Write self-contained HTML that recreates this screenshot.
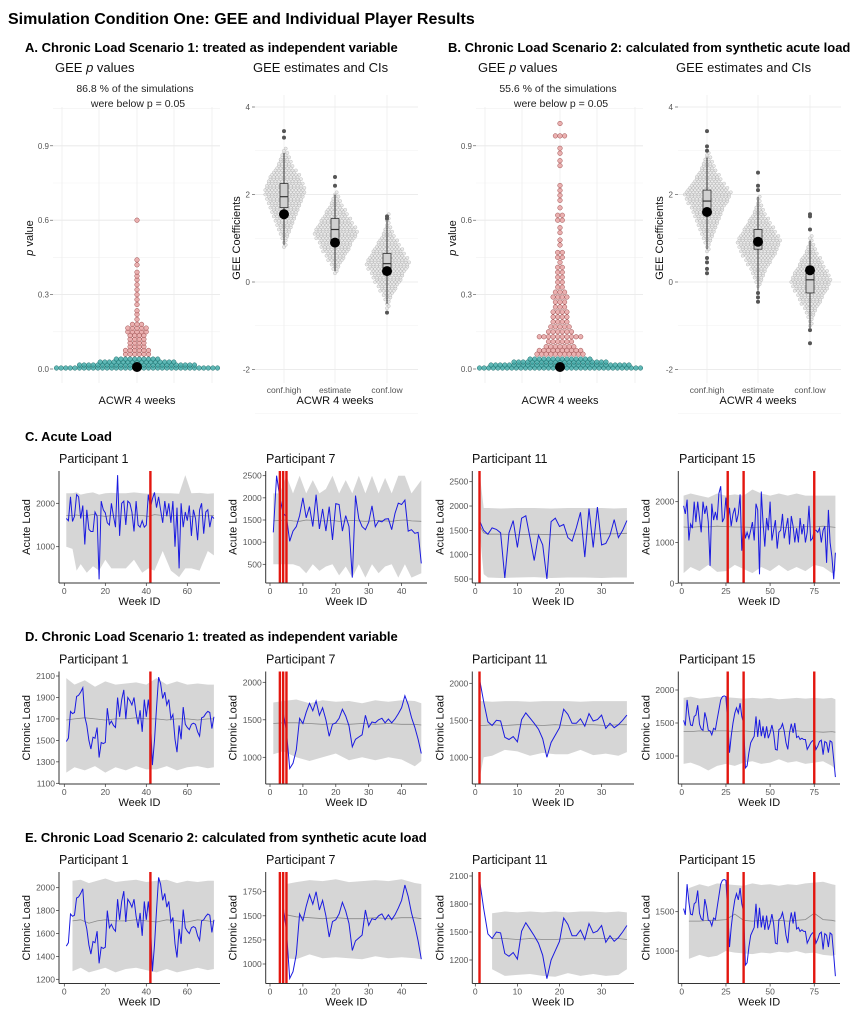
<!DOCTYPE html>
<html><head><meta charset="utf-8">
<style>
html,body{margin:0;padding:0;background:#fff;}
svg{display:block;font-family:"Liberation Sans",Arial,sans-serif;}
</style></head>
<body>
<svg id="fig" width="862" height="1026" viewBox="0 0 862 1026">
<rect x="0" y="0" width="862" height="1026" fill="#ffffff"/>
<text x="8" y="24" font-size="16" font-weight="bold" fill="#000">Simulation Condition One: GEE and Individual Player Results</text>
<text x="25" y="52" font-size="13" font-weight="bold">A. Chronic Load Scenario 1: treated as independent variable</text>
<text x="448" y="52" font-size="13" font-weight="bold">B. Chronic Load Scenario 2: calculated from synthetic acute load</text>
<text x="25" y="441" font-size="13" font-weight="bold">C. Acute Load</text>
<text x="25" y="641" font-size="13" font-weight="bold">D. Chronic Load Scenario 1: treated as independent variable</text>
<text x="25" y="842" font-size="13" font-weight="bold">E. Chronic Load Scenario 2: calculated from synthetic acute load</text>
<g id="layer"></g>
</svg>
<script>
// ---------- Beeswarm p-value data ----------
const tealBins = [0.004, 0.016, 0.028, 0.040];
const tealCountsA = [36, 26, 17, 10];
const tealCountsB = [36, 31, 21, 14];
const redBinsA = [0.06,0.075,0.09,0.105,0.12,0.135,0.15,0.165,0.18,0.2,0.22,0.235,0.26,0.28,0.3,0.32,0.34,0.36,0.375,0.39,0.42,0.44,0.6];
const redCountsA = [6,6,4,4,4,4,5,5,3,1,1,1,1,1,1,1,1,1,1,1,1,1,1];
const redBinsB = [0.06,0.075,0.09,0.11,0.13,0.15,0.17,0.19,0.21,0.23,0.25,0.27,0.29,0.31,0.33,0.35,0.37,0.39,0.41,0.43,0.45,0.47,0.5,0.52,0.55,0.57,0.6,0.62,0.65,0.68,0.7,0.72,0.74,0.82,0.84,0.87,0.89,0.94,0.99];
const redCountsB = [11,10,7,6,10,6,5,4,4,4,3,3,4,3,2,2,2,2,2,1,2,2,1,1,1,1,2,2,1,1,1,1,1,1,1,1,1,3,1];
const pMedianA = 0.008, pMedianB = 0.008;
const pTicks = [0.0, 0.3, 0.6, 0.9];
const pTickLabels = ["0.0","0.3","0.6","0.9"];

// ---------- GEE estimates data ----------
const geeCats = ["conf.high","estimate","conf.low"];
const geeStartA = [0.8, 0.2, -0.6];
const geeCountsA_high = [1,1,2,3,4,5,6,7,8,9,10,11,12,12,11,10,9,7,5,4,3,2,1];
const geeCountsA_est = [1,2,3,5,6,8,9,10,12,13,12,10,9,7,6,4,3,2,1];
const geeCountsA_low = [1,1,2,3,5,6,8,9,10,12,13,12,10,9,7,6,4,3,2,1,1,1];
const geeStartB = [0.7, -0.1, -1.0];
const geeCountsB_high = [1,1,2,3,4,5,6,7,8,9,10,12,13,14,12,10,8,7,5,4,3,2,1];
const geeCountsB_est = [1,2,3,4,5,7,8,10,11,12,13,12,10,9,7,6,4,3,2,1,1];
const geeCountsB_low = [1,1,2,3,4,6,7,8,10,11,12,11,10,8,7,6,4,3,2,1,1];
const boxA_high = [0.85,1.7,1.95,2.25,2.95], boxA_est = [0.25,0.95,1.2,1.45,2.0], boxA_low = [-0.5,0.2,0.42,0.65,1.4];
const boxB_high = [0.75,1.6,1.85,2.1,2.85], boxB_est = [-0.2,0.75,0.95,1.2,1.95], boxB_low = [-1.05,-0.25,0.05,0.3,0.95];
const outA_high = [3.3,3.45], outA_est = [2.2,2.4], outA_low = [1.45,1.5,-0.7];
const outB_high = [0.2,0.3,0.45,0.55,3.0,3.1,3.45], outB_est = [2.1,2.2,2.5,-0.25,-0.35,-0.45], outB_low = [1.2,1.5,1.55,-1.1,-1.4];
const pointA = [1.55, 0.9, 0.25], pointB = [1.6, 0.92, 0.27];
const geeTicks = [-2, 0, 2, 4];

// ---------- Time series data ----------
const acuteP1 = [1650,1600,2150,1580,1700,2200,2150,1650,1950,1050,1850,1400,1350,1350,1800,1700,250,2050,1850,1780,1550,1500,2000,1700,1450,2650,1250,2000,2050,1500,2050,2000,1800,1350,2050,1500,1450,1600,1450,1500,2200,1900,2100,2250,1900,2150,1850,1550,2050,1700,2000,1550,2050,1000,1900,500,2000,1450,1800,1600,1950,1250,1850,1650,1150,1850,2000,1300,1800,1850,1450,1700,1650];
const acuteP7 = [1220,2500,2000,1650,1580,1020,1250,1350,1600,2000,1550,1800,1350,2070,1300,1750,1250,1800,1050,1870,1850,1250,1600,1350,200,2050,1530,1350,1280,1450,1820,1350,1480,1460,1520,1530,1280,1650,1880,1850,1950,1250,1280,1200,1220,520];
const acuteP11 = [1700,1500,1420,1550,1520,1450,520,1450,1700,1150,1750,1800,1350,880,1400,1200,500,1680,1750,1580,1620,1350,1280,1550,1870,950,1950,1150,1980,1200,1230,1400,1720,1350,1500,1700];
const acuteP15 = [1900,1700,2050,1050,1450,1350,2000,1500,2000,1600,1250,2000,1700,1900,1500,430,1950,1550,1750,1550,2200,2380,1500,1600,2100,1500,1850,1400,1700,1850,1500,1700,2180,800,1500,1100,1250,1100,1300,1500,1050,1950,1800,220,2250,1500,900,1600,1300,2000,1050,1300,1550,850,1250,1300,1700,1100,1350,1600,950,1650,1400,1000,1350,1000,1600,1200,1450,1000,1250,1900,1050,1100,1300,1300,1250,1350,1000,1300,1400,500,1800,1000,650,100,750];
const chronicP1 = [1490,1520,1770,1750,1760,1910,1920,1950,1990,1720,1640,1500,1420,1530,1520,1620,1340,1480,1470,1480,1800,1650,1680,1640,1620,1900,1720,1880,1970,1700,1900,1870,1830,1900,1750,1650,1780,1580,1880,1720,1880,1700,1270,1500,1800,2090,2030,1890,1950,1830,1880,1700,1740,1510,1390,1640,1510,1810,1650,1620,1600,1650,1660,1650,1580,1540,1710,1720,1750,1770,1760,1610,1720];
const chronicP7 = [null,null,null,1600,1350,850,920,1100,1520,1450,1600,1720,1620,1750,1560,1660,1500,1280,1440,1460,1520,1640,1550,1420,1140,1240,1270,1300,1560,1400,1470,1460,1500,1520,1460,1510,1460,1510,1580,1660,1820,1700,1530,1400,1240,1050];
const chronicP11 = [2060,1750,1480,1430,1500,1490,1270,1240,1280,1210,1510,1600,1530,1460,1380,1250,1000,1200,1300,1400,1650,1580,1460,1460,1520,1420,1590,1490,1510,1570,1390,1460,1400,1440,1500,1570];
const chronicP15 = [1540,1460,1850,1620,1470,1460,1600,1620,1770,1480,1410,1390,1660,1560,1390,1380,1320,1420,1400,1550,1700,1850,1900,1910,1900,1500,1050,1300,1500,1650,1730,1650,1800,1600,1500,820,850,1050,1200,1250,1300,1600,1290,1550,1300,1450,1270,1450,1270,1350,1470,1350,1100,1090,1400,1420,1490,1380,1200,1100,1350,1490,1350,1500,1280,1300,1250,1270,1250,1250,1100,1150,1200,1230,1230,1100,1150,1220,1240,1020,1220,1200,1050,1230,1210,950,680];

const bandWeeksC1 = [1,4,6,8,11,14,17,20,23,26,30,34,38,41,44,48,52,56,59,62,66,70,73];
const bandUpC1 = [2230,2230,2250,2200,2230,2250,2200,2230,2240,2230,2230,2250,2230,2220,2240,2230,2230,2220,2650,2230,2240,2220,2230];
const bandLoC1 = [1000,950,450,600,400,550,450,700,500,500,500,700,400,500,450,900,450,300,500,500,450,900,800];
const bandMeanC1 = [1720,1720,1730,1710,1720,1740,1720,1700,1720,1710,1720,1730,1720,1700,1740,1720,1710,1720,1720,1700,1720,1710,1720];
const bandWeeksC7 = [1,3,5,7,9,11,13,15,17,19,21,23,25,27,29,31,33,35,37,39,41,43,46];
const bandUpC7 = [2100,2100,2500,2100,2500,2100,2400,2100,2200,2500,2100,2400,2100,2500,2100,2500,2100,2450,2100,2500,2500,2100,2400];
const bandLoC7 = [500,500,500,500,450,300,500,350,450,500,250,450,200,500,200,500,300,450,500,200,500,200,300];
const bandMeanC7 = [1480,1490,1500,1480,1470,1500,1490,1480,1480,1490,1470,1480,1490,1480,1470,1480,1490,1480,1470,1490,1500,1480,1470];
const bandWeeksC11 = [1,2,3,6,10,14,18,22,26,30,33,36];
const bandUpC11 = [2700,1960,1960,1950,1960,1960,1950,1960,1960,1960,1950,1960];
const bandLoC11 = [1500,600,530,520,530,540,520,530,530,520,530,530];
const bandMeanC11 = [1600,1450,1420,1420,1410,1420,1410,1420,1420,1430,1430,1440];
const bandWeeksC15 = [1,5,10,15,20,25,30,35,40,45,50,55,60,65,70,75,80,85,87];
const bandUpC15 = [2150,2200,2150,2100,2200,2150,2180,2150,2300,2200,2150,2200,2150,2200,2150,2150,2150,2150,2150];
const bandLoC15 = [250,400,300,450,280,300,450,350,250,400,300,450,300,400,300,450,400,250,300];
const bandMeanC15 = [1380,1370,1390,1380,1400,1390,1380,1380,1370,1380,1390,1380,1370,1380,1390,1380,1400,1380,1370];

const bandWeeksD1 = [1,5,10,15,20,25,30,35,40,45,50,55,60,65,70,73];
const bandUpD1 = [2080,2020,2060,2000,2050,2020,2030,2040,2020,2080,2020,2050,2020,2030,2020,2020];
const bandLoD1 = [1200,1250,1220,1260,1200,1250,1220,1260,1230,1230,1260,1220,1250,1260,1240,1250];
const bandMeanD1 = [1690,1700,1710,1700,1690,1700,1700,1710,1700,1700,1690,1700,1700,1690,1700,1700];
const bandWeeksD7 = [1,4,8,12,16,20,24,28,32,36,40,44,46];
const bandUpD7 = [1730,1750,1770,1720,1760,1740,1750,1720,1760,1740,1760,1750,1720];
const bandLoD7 = [1040,1080,1000,950,1000,1050,960,1000,960,1000,970,880,950];
const bandMeanD7 = [1450,1460,1460,1450,1440,1450,1440,1450,1440,1450,1440,1440,1430];
const bandWeeksD11 = [1,2,4,7,10,13,16,19,22,25,28,31,34,36];
const bandUpD11 = [1760,1760,1750,1760,1760,1750,1760,1760,1760,1750,1760,1760,1760,1760];
const bandLoD11 = [700,1000,1020,1100,1080,1020,1060,1040,1040,1100,1030,1050,1020,1070];
const bandMeanD11 = [1430,1430,1440,1430,1440,1440,1430,1440,1430,1440,1440,1430,1440,1440];
const bandWeeksD15 = [1,5,10,15,20,25,30,35,40,45,50,55,60,65,70,75,80,85,87];
const bandUpD15 = [1880,1900,1870,1880,1900,1890,1880,1870,1880,1870,1880,1860,1870,1880,1870,1880,1870,1880,1860];
const bandLoD15 = [880,900,850,780,850,880,850,900,920,880,900,950,900,920,880,900,920,850,800];
const bandMeanD15 = [1370,1370,1380,1370,1380,1380,1370,1380,1370,1370,1380,1370,1370,1380,1370,1370,1360,1370,1360];

const bandWeeksE1 = [4,8,12,16,20,25,30,35,40,45,50,55,60,65,70,73];
const bandUpE1 = [2060,2070,2040,2060,2080,2050,2060,2070,2050,2060,2070,2040,2060,2050,2060,2060];
const bandLoE1 = [1270,1300,1260,1280,1300,1260,1290,1300,1280,1260,1290,1260,1280,1300,1280,1290];
const bandMeanE1 = [1710,1720,1690,1710,1720,1710,1710,1720,1710,1700,1720,1710,1700,1720,1710,1700];
const bandWeeksE7 = [5,8,12,16,20,24,28,32,36,40,44,46];
const bandUpE7 = [1830,1850,1870,1860,1880,1850,1860,1870,1860,1880,1840,1830];
const bandLoE7 = [1060,1050,1100,1060,1070,1060,1050,1080,1060,1070,1060,1050];
const bandMeanE7 = [1510,1490,1480,1470,1480,1470,1470,1480,1470,1480,1480,1470];
const bandWeeksE11 = [4,7,10,13,16,19,22,25,28,31,34,36];
const bandUpE11 = [1700,1720,1710,1720,1710,1720,1710,1720,1720,1710,1720,1710];
const bandLoE11 = [1100,1030,1040,1050,1030,1020,1060,1030,1050,1030,1040,1100];
const bandMeanE11 = [1430,1430,1420,1430,1420,1420,1430,1430,1430,1430,1430,1420];
const bandWeeksE15 = [4,10,15,20,25,30,35,40,45,50,55,60,65,70,75,80,85,87];
const bandUpE15 = [1800,1850,1820,1860,1850,1840,1830,1860,1840,1850,1830,1850,1840,1860,1870,1880,1850,1840];
const bandLoE15 = [900,950,920,940,1000,980,970,960,980,970,990,980,1000,970,980,950,940,950];
const bandMeanE15 = [1380,1380,1390,1390,1400,1470,1390,1380,1390,1380,1390,1380,1390,1400,1480,1400,1390,1380];

const redWeeks1 = [42], redWeeks7 = [3,4,5], redWeeks11 = [1], redWeeks15 = [26,35,75];

// ---------- drawing ----------
const NS = "http://www.w3.org/2000/svg";
const layer = document.getElementById('layer');
function mk(tag, attrs, parent) {
  const e = document.createElementNS(NS, tag);
  for (const k in attrs) e.setAttribute(k, attrs[k]);
  (parent || layer).appendChild(e);
  return e;
}
function txt(x, y, s, size, attrs, parent) {
  const t = mk('text', Object.assign({x: x, y: y, 'font-size': size}, attrs || {}), parent);
  t.textContent = s;
  return t;
}

function drawPPanel(off, tealCounts, redBins, redCounts, pct, median, nm) {
  const g = mk('g', {});
  
  
  const L = 53 + off, R = 220 + off, T = 107, B = 383, cx = 137 + off;
  const y = p => 369 - (p / 0.3) * 74.4;
  for (let p = 0.15; p < 1.1; p += 0.3) mk('line', {x1: L, x2: R, y1: y(p), y2: y(p), stroke: '#f2f2f2', 'stroke-width': 0.6}, g);
  pTicks.forEach(p => mk('line', {x1: L, x2: R, y1: y(p), y2: y(p), stroke: '#e6e6e6', 'stroke-width': 0.8}, g));
  [62, 99, 137, 174, 212].forEach(v => mk('line', {x1: v + off, x2: v + off, y1: T, y2: B, stroke: '#ececec', 'stroke-width': 0.7}, g));
  pTicks.forEach((p, i) => {
    mk('line', {x1: L - 3, x2: L, y1: y(p), y2: y(p), stroke: '#444', 'stroke-width': 0.6}, g);
    txt(L - 4, y(p) + 3, pTickLabels[i], 8, {'text-anchor': 'end', fill: '#555'}, g);
  });
  const d = 4.6;
  tealBins.forEach((p, bi) => {
    const n = tealCounts[bi];
    for (let i = 0; i < n; i++) {
      const c = mk('circle', {cx: cx + (i - (n - 1) / 2) * d, cy: y(p), r: 2.3, fill: '#3aa6a4', 'fill-opacity': 0.8, stroke: '#1f6f6d', 'stroke-width': 0.5}, g);
      
      
    }
  });
  redBins.forEach((p, bi) => {
    const n = redCounts[bi];
    for (let i = 0; i < n; i++) {
      const c = mk('circle', {cx: cx + (i - (n - 1) / 2) * d, cy: y(p), r: 2.3, fill: '#e8a3a3', 'fill-opacity': 0.85, stroke: '#9a4a4a', 'stroke-width': 0.5}, g);
      
      
    }
  });
  const m = mk('circle', {cx: cx, cy: y(median), r: 5, fill: '#000'}, g);
  
  
  const t1 = txt(55 + off, 72, 'GEE ', 13, {fill: '#111'}, g);
  const ts = mk('tspan', {'font-style': 'italic'}, t1); ts.textContent = 'p';
  const ts2 = mk('tspan', {}, t1); ts2.textContent = ' values';
  
  
  txt(135 + off, 92, pct + ' % of the simulations', 10.5, {'text-anchor': 'middle', fill: '#222'}, g);
  txt(138 + off, 107, 'were below p = 0.05', 10.5, {'text-anchor': 'middle', fill: '#222'}, g);
  const yl = txt(0, 0, '', 11, {transform: 'translate(' + (33 + off) + ',238) rotate(-90)', 'text-anchor': 'middle', fill: '#111'}, g);
  const a = mk('tspan', {'font-style': 'italic'}, yl); a.textContent = 'p';
  const b = mk('tspan', {}, yl); b.textContent = ' value';
  
  
  const xl = txt(cx, 404, 'ACWR 4 weeks', 11, {'text-anchor': 'middle', fill: '#111'}, g);
  
  
}

function drawGeePanel(off, starts, counts, boxes, outs, points, nm) {
  const g = mk('g', {});
  
  
  const L = 255 + off, R = 418 + off, T = 95, B = 383;
  const y = v => 282 - v * 43.75;
  const xs = [284 + off, 335 + off, 387 + off];
  for (let v = -3; v <= 4; v += 2) mk('line', {x1: L, x2: R, y1: y(v), y2: y(v), stroke: '#f2f2f2', 'stroke-width': 0.6}, g);
  geeTicks.forEach(v => mk('line', {x1: L, x2: R, y1: y(v), y2: y(v), stroke: '#e6e6e6', 'stroke-width': 0.8}, g));
  xs.forEach(x => mk('line', {x1: x, x2: x, y1: T, y2: B, stroke: '#ececec', 'stroke-width': 0.7}, g));
  geeTicks.forEach(v => {
    mk('line', {x1: L - 3, x2: L, y1: y(v), y2: y(v), stroke: '#444', 'stroke-width': 0.6}, g);
    txt(L - 5, y(v) + 3, String(v), 8, {'text-anchor': 'end', fill: '#555'}, g);
  });
  const d = 3.4;
  xs.forEach((x, ci) => {
    counts[ci].forEach((n, bi) => {
      const v = starts[ci] + bi * 0.1;
      for (let i = 0; i < n; i++) {
        for (let s = 0; s < 2; s++) {
          const c = mk('circle', {cx: x + (i - (n - 1) / 2) * d + (s ? d / 2 : 0), cy: y(v + s * 0.05), r: 1.6, fill: '#e2e2e2', 'fill-opacity': 0.7, stroke: '#a8a8a8', 'stroke-width': 0.35}, g);
          
          
        }
      }
    });
    const bx = boxes[ci];
    mk('line', {x1: x, x2: x, y1: y(bx[0]), y2: y(bx[4]), stroke: '#333', 'stroke-width': 1}, g);
    const r = mk('rect', {x: x - 4, y: y(bx[3]), width: 8, height: y(bx[1]) - y(bx[3]), fill: '#d0d0d0', stroke: '#333', 'stroke-width': 0.8}, g);
    
    
    mk('line', {x1: x - 4, x2: x + 4, y1: y(bx[2]), y2: y(bx[2]), stroke: '#333', 'stroke-width': 1.2}, g);
    outs[ci].forEach(v => mk('circle', {cx: x, cy: y(v), r: 2, fill: '#555'}, g));
    const pt = mk('circle', {cx: x, cy: y(points[ci]), r: 5, fill: '#000'}, g);
    
    
    txt(x, 393, geeCats[ci], 8.5, {'text-anchor': 'middle', fill: '#555'}, g);
  });
  txt(253 + off, 72, 'GEE estimates and CIs', 13, {fill: '#111'}, g);
  const yl = txt(0, 0, 'GEE Coefficients', 11, {transform: 'translate(' + (240 + off) + ',238) rotate(-90)', 'text-anchor': 'middle', fill: '#111'}, g);
  
  
  txt(335 + off, 404, 'ACWR 4 weeks', 11, {'text-anchor': 'middle', fill: '#111'}, g);
}

drawPPanel(0, tealCountsA, redBinsA, redCountsA, '86.8', pMedianA, 'a');
drawPPanel(423, tealCountsB, redBinsB, redCountsB, '55.6', pMedianB, 'b');
drawGeePanel(0, geeStartA, [geeCountsA_high, geeCountsA_est, geeCountsA_low], [boxA_high, boxA_est, boxA_low], [outA_high, outA_est, outA_low], pointA, 'a');
drawGeePanel(423, geeStartB, [geeCountsB_high, geeCountsB_est, geeCountsB_low], [boxB_high, boxB_est, boxB_low], [outB_high, outB_est, outB_low], pointB, 'b');

const cols = [
  {L: 59, R: 220, x0: 64.3, k: 2.05, xt: [0,20,40,60], title: 'Participant 1', tx: 59},
  {L: 265.7, R: 427, x0: 270, k: 3.29, xt: [0,10,20,30,40], title: 'Participant 7', tx: 266},
  {L: 472.3, R: 634, x0: 475.3, k: 4.21, xt: [0,10,20,30], title: 'Participant 11', tx: 472},
  {L: 678.3, R: 840, x0: 681.8, k: 1.766, xt: [0,25,50,75], title: 'Participant 15', tx: 679}
];
const rows = [
  {T: 471, B: 583, ylab: 'Acute Load', name: 'acute',
   ys: [[2000,503.3,1000,546.7,[1000,2000]],[2500,475.7,500,564.3,[500,1000,1500,2000,2500]],[2500,481.7,500,579,[500,1000,1500,2000,2500]],[2000,501.7,0,583.3,[0,1000,2000]]]},
  {T: 671.5, B: 784, ylab: 'Chronic Load', name: 'chronic-s1',
   ys: [[2100,676,1100,783.3,[1100,1300,1500,1700,1900,2100]],[2000,682.3,1000,757.3,[1000,1500,2000]],[2000,683.3,1000,757.3,[1000,1500,2000]],[2000,690,1000,756,[1000,1500,2000]]]},
  {T: 872, B: 983.5, ylab: 'Chronic Load', name: 'chronic-s2',
   ys: [[2000,887.7,1200,979.3,[1200,1400,1600,1800,2000]],[1750,891.7,1000,964,[1000,1250,1500,1750]],[2100,876,1200,960,[1200,1500,1800,2100]],[1500,911.7,1000,951,[1000,1500]]]}
];
const series = [[acuteP1, acuteP7, acuteP11, acuteP15],[chronicP1, chronicP7, chronicP11, chronicP15],[chronicP1, chronicP7, chronicP11, chronicP15]];
const bands = [
  [[bandWeeksC1,bandUpC1,bandLoC1,bandMeanC1],[bandWeeksC7,bandUpC7,bandLoC7,bandMeanC7],[bandWeeksC11,bandUpC11,bandLoC11,bandMeanC11],[bandWeeksC15,bandUpC15,bandLoC15,bandMeanC15]],
  [[bandWeeksD1,bandUpD1,bandLoD1,bandMeanD1],[bandWeeksD7,bandUpD7,bandLoD7,bandMeanD7],[bandWeeksD11,bandUpD11,bandLoD11,bandMeanD11],[bandWeeksD15,bandUpD15,bandLoD15,bandMeanD15]],
  [[bandWeeksE1,bandUpE1,bandLoE1,bandMeanE1],[bandWeeksE7,bandUpE7,bandLoE7,bandMeanE7],[bandWeeksE11,bandUpE11,bandLoE11,bandMeanE11],[bandWeeksE15,bandUpE15,bandLoE15,bandMeanE15]]
];
const reds = [redWeeks1, redWeeks7, redWeeks11, redWeeks15];

rows.forEach((row, ri) => {
  cols.forEach((col, ci) => {
    const g = mk('g', {});
    
    
    const ycfg = row.ys[ci];
    const sc = (ycfg[1] - ycfg[3]) / (ycfg[0] - ycfg[2]);
    const y = v => ycfg[3] + (v - ycfg[2]) * sc;
    const x = w => col.x0 + w * col.k;
    const clipId = 'clip' + ri + ci;
    const cp = mk('clipPath', {id: clipId}, g);
    mk('rect', {x: col.L, y: row.T, width: col.R - col.L, height: row.B - row.T}, cp);
    const pg = mk('g', {'clip-path': 'url(#' + clipId + ')'}, g);
    const bd = bands[ri][ci];
    let dstr = '';
    bd[0].forEach((w, i) => { dstr += (i ? 'L' : 'M') + x(w).toFixed(1) + ' ' + y(bd[1][i]).toFixed(1); });
    for (let i = bd[0].length - 1; i >= 0; i--) dstr += 'L' + x(bd[0][i]).toFixed(1) + ' ' + y(bd[2][i]).toFixed(1);
    const band = mk('path', {d: dstr + 'Z', fill: '#d6d6d6'}, pg);
    
    
    let mstr = '';
    bd[0].forEach((w, i) => { mstr += (i ? 'L' : 'M') + x(w).toFixed(1) + ' ' + y(bd[3][i]).toFixed(1); });
    const mean = mk('path', {d: mstr, fill: 'none', stroke: '#8a8a8a', 'stroke-width': 0.8}, pg);
    
    
    const s = series[ri][ci];
    let lstr = '', started = false;
    s.forEach((v, i) => {
      if (v === null) return;
      lstr += (started ? 'L' : 'M') + x(i + 1).toFixed(1) + ' ' + y(v).toFixed(1);
      started = true;
    });
    const line = mk('path', {d: lstr, fill: 'none', stroke: '#1a1ae0', 'stroke-width': 1}, pg);
    
    
    reds[ci].forEach(w => {
      const rl = mk('line', {x1: x(w), x2: x(w), y1: row.T, y2: row.B, stroke: '#e3160f', 'stroke-width': 2.4}, g);
      
      
    });
    mk('line', {x1: col.L, x2: col.L, y1: row.T, y2: row.B, stroke: '#333', 'stroke-width': 1}, g);
    mk('line', {x1: col.L, x2: col.R, y1: row.B, y2: row.B, stroke: '#333', 'stroke-width': 1}, g);
    ycfg[4].forEach(v => {
      mk('line', {x1: col.L - 3, x2: col.L, y1: y(v), y2: y(v), stroke: '#333', 'stroke-width': 0.7}, g);
      txt(col.L - 4, y(v) + 3, String(v), 8.5, {'text-anchor': 'end', fill: '#555'}, g);
    });
    col.xt.forEach(w => {
      mk('line', {x1: x(w), x2: x(w), y1: row.B, y2: row.B + 3, stroke: '#333', 'stroke-width': 0.7}, g);
      txt(x(w), row.B + 11, String(w), 8.5, {'text-anchor': 'middle', fill: '#555'}, g);
    });
    const tt = txt(col.tx, row.T - 8, col.title, 12.5, {fill: '#111'}, g);
    
    
    txt((col.L + col.R) / 2, row.B + 22, 'Week ID', 11, {'text-anchor': 'middle', fill: '#111'}, g);
    const ylab = txt(0, 0, row.ylab, 11, {transform: 'translate(' + (col.L - 29) + ',' + ((row.T + row.B) / 2) + ') rotate(-90)', 'text-anchor': 'middle', fill: '#111'}, g);
    
    
  });
});
</script>
</body></html>
